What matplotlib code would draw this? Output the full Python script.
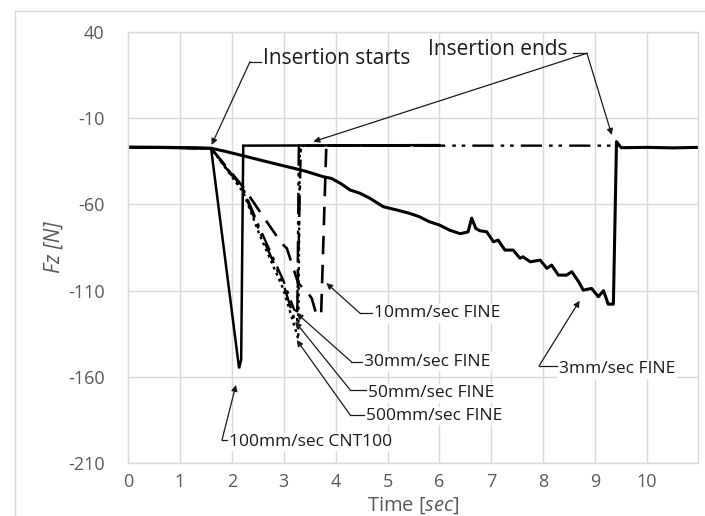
import matplotlib
matplotlib.use("Agg")
import matplotlib.pyplot as plt
from matplotlib.lines import Line2D

plt.rcParams['font.family'] = ['Open Sans', 'DejaVu Sans']
plt.rcParams['axes.unicode_minus'] = False
plt.rcParams['mathtext.fontset'] = 'custom'
plt.rcParams['mathtext.it'] = 'Open Sans:italic'
plt.rcParams['mathtext.rm'] = 'Open Sans'

# ---------------- data (time [s], Fz [N]) ----------------
t_3mm = [0.0, 0.8, 1.6, 1.9, 2.29, 2.54, 2.93, 3.18, 3.44, 3.76, 3.92, 4.09, 4.28, 4.47,
         4.66, 4.92, 5.18, 5.4, 5.6, 5.8, 6.0, 6.2, 6.4, 6.55, 6.62, 6.7, 6.78, 6.91, 7.04,
         7.13, 7.26, 7.42, 7.55, 7.61, 7.75, 7.94, 8.07, 8.16, 8.29, 8.45, 8.55, 8.68,
         8.77, 8.93, 9.06, 9.16, 9.25, 9.35, 9.41, 9.5, 10.0, 10.5, 10.98]
v_3mm = [-26.8, -27.0, -27.5, -29.5, -32.4, -34.3, -37.2, -39.0, -41.0, -44.0, -45.0, -47.8,
         -51.7, -53.6, -56.5, -61.4, -63.3, -65.0, -67.0, -70.0, -72.0, -75.0, -77.0, -76.0,
         -68.0, -74.0, -75.3, -75.9, -81.7, -80.7, -86.5, -86.5, -91.2, -90.4, -93.3, -92.3,
         -97.1, -95.2, -101.0, -101.0, -99.0, -104.8, -109.7, -108.7, -113.5, -110.0,
         -117.8, -117.8, -23.7, -27.2, -27.0, -27.3, -27.0]

t_10mm = [0.0, 1.6, 2.22, 2.58, 2.96, 3.06, 3.28, 3.45, 3.54, 3.63, 3.72, 3.82, 6.0]
v_10mm = [-27.0, -27.5, -50.0, -66.0, -82.6, -85.5, -105.8, -110.6, -114.5, -124.0, -124.0, -26.0, -26.0]

t_30mm = [0.0, 1.6, 2.22, 2.54, 2.99, 3.2, 3.26, 3.33, 6.0]
v_30mm = [-27.0, -27.5, -51.0, -74.0, -104.0, -121.0, -122.0, -26.0, -26.0]

t_50mm = [0.0, 1.6, 2.22, 2.54, 2.99, 3.22, 3.26, 3.29, 9.3]
v_50mm = [-27.0, -27.5, -52.0, -76.0, -106.0, -128.0, -128.0, -26.0, -26.0]

t_500mm = [0.0, 1.6, 2.22, 2.54, 2.99, 3.28, 3.31, 6.0]
v_500mm = [-27.0, -27.5, -53.0, -78.0, -109.0, -138.0, -26.0, -26.0]

t_cnt = [0.0, 1.6, 2.14, 2.18, 2.22, 6.0]
v_cnt = [-27.0, -27.5, -155.0, -150.0, -26.0, -25.7]

x_ticks = [0, 1, 2, 3, 4, 5, 6, 7, 8, 9, 10]
y_ticks = [40, -10, -60, -110, -160, -210]

# ---------------- figure ----------------
W, H = 705, 516
fig = plt.figure(figsize=(W / 100, H / 100), dpi=100)
ax = fig.add_axes([128 / W, 1 - 463.3 / H, 570 / W, 431.6 / H])

grid_c = '#d9d9d9'
# chart-area border
fig.add_artist(Line2D([15 / W, 1.0], [1 - 11 / H, 1 - 11 / H], color=grid_c, lw=1))
fig.add_artist(Line2D([15 / W, 15 / W], [0, 1 - 11 / H], color=grid_c, lw=1))

ax.plot(t_cnt, v_cnt, color='black', lw=1.8, solid_joinstyle='miter')
ax.plot(t_3mm, v_3mm, color='black', lw=2.2)
ax.plot(t_10mm, v_10mm, color='black', lw=1.9, linestyle=(0, (7, 4)))
ax.plot(t_30mm, v_30mm, color='black', lw=1.7, linestyle=(0, (8, 3, 1.5, 3)))
ax.plot(t_50mm, v_50mm, color='black', lw=1.7, linestyle=(0, (9, 3, 1.5, 2.5, 1.5, 3)))
ax.plot(t_500mm, v_500mm, color='black', lw=1.7, linestyle=(0, (1.2, 1.6)))

ax.set_xlim(0, 10.98)
ax.set_ylim(-210, 40)
ax.set_xticks(x_ticks)
ax.set_yticks(y_ticks)
ax.grid(True, color=grid_c, lw=1)
ax.set_axisbelow(True)
for s in ax.spines.values():
    s.set_color(grid_c)
    s.set_linewidth(1)
ax.tick_params(length=0, labelsize=13, labelcolor='#595959')
ax.tick_params(axis='y', pad=17)
ax.tick_params(axis='x', pad=7)

ax.set_xlabel('Time $\\it{[sec]}$', fontsize=14.5, color='#595959', labelpad=3)
ax.set_ylabel('Fz [N]', fontsize=15, color='#595959', style='italic', labelpad=2)

# ---------------- annotations ----------------
txt_c = '#1a1a1a'
arrow_kw = dict(arrowstyle='-|>', lw=0.9, color=txt_c, mutation_scale=9, shrinkA=0, shrinkB=0)


def label(text, xy_text, corner, tips, size=12.5, bbox=True, leader_end=None):
    kw = {}
    if bbox:
        kw['bbox'] = dict(facecolor='white', edgecolor='none', pad=1)
    ax.text(xy_text[0], xy_text[1], text, fontsize=size, color=txt_c,
            ha='left', va='center', zorder=5, **kw)
    end = xy_text[0] - 0.04 if leader_end is None else leader_end
    ax.plot([corner[0], end], [corner[1], corner[1]], color=txt_c, lw=0.9, zorder=6)
    for tip in tips:
        ax.annotate('', xy=tip, xytext=corner, arrowprops=arrow_kw, zorder=6)


label('Insertion starts', (2.60, 24.5), (2.35, 22.6), [(1.61, -25.6)], size=15, bbox=False)
label('Insertion ends', (5.78, 29.8), (8.84, 27.5), [(3.57, -23.7), (9.32, -19.8)],
      size=15, bbox=False, leader_end=8.58)

label('10mm/sec FINE', (4.74, -123.1), (4.47, -123.1), [(3.82, -105.6)])
label('30mm/sec FINE', (4.55, -151.1), (4.30, -151.1), [(3.25, -123.1)])
label('50mm/sec FINE', (4.63, -169.5), (4.28, -167.5), [(3.22, -128.0)])
label('500mm/sec FINE', (4.59, -182.6), (4.28, -182.0), [(3.25, -138.6)])
label('100mm/sec CNT100', (1.95, -197.7), (1.81, -196.5), [(2.08, -164.6)])
label('3mm/sec FINE', (8.30, -155.6), (7.92, -153.5), [(8.70, -115.8)])

fig.savefig('out.png', dpi=100)
